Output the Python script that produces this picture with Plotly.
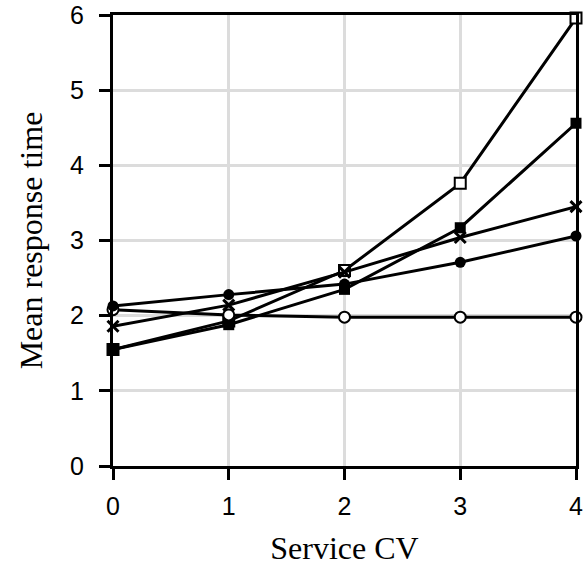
import plotly.graph_objects as go

service_cv = [0, 1, 2, 3, 4]

open_square = [1.55, 1.93, 2.60, 3.76, 5.96]
filled_square = [1.55, 1.88, 2.35, 3.17, 4.56]
open_circle = [2.08, 2.01, 1.98, 1.98, 1.98]
cross = [1.86, 2.14, 2.58, 3.04, 3.45]
filled_circle = [2.13, 2.28, 2.42, 2.71, 3.06]

series = [
    ("open square", open_square, dict(symbol="square", size=11, color="white", line=dict(color="black", width=2))),
    ("filled square", filled_square, dict(symbol="square", size=11, color="black", line=dict(color="black", width=0))),
    ("open circle", open_circle, dict(symbol="circle", size=11, color="white", line=dict(color="black", width=2))),
    ("cross", cross, dict(symbol="x-thin", size=11, color="black", line=dict(color="black", width=3))),
    ("filled circle", filled_circle, dict(symbol="circle", size=11, color="black", line=dict(color="black", width=0))),
]

fig = go.Figure()
for name, ys, mk in series:
    fig.add_trace(go.Scatter(x=service_cv, y=ys, mode="lines+markers", name=name,
                             line=dict(color="black", width=3), marker=mk,
                             showlegend=False, cliponaxis=False))

axis_common = dict(
    showline=True, linecolor="black", linewidth=3, mirror=True,
    ticks="outside", ticklen=11, tickwidth=3, tickcolor="black",
    showgrid=True, gridcolor="#dcdcdc", gridwidth=3, zeroline=False,
    tickfont=dict(family="Liberation Sans, Arial", size=25, color="black"),
    automargin=False,
)

title_font = dict(family="Liberation Serif, Times New Roman", size=32, color="black")

fig.update_layout(
    width=587, height=567,
    margin=dict(l=113, r=11, t=15, b=101),
    plot_bgcolor="white", paper_bgcolor="white",
    xaxis=dict(range=[0, 4], dtick=1, tick0=0, ticklabelstandoff=5,
               title=dict(text="Service CV", font=title_font, standoff=18),
               **axis_common),
    yaxis=dict(range=[0, 6], dtick=1, tick0=0, ticklabelstandoff=10,
               title=dict(text="Mean response time", font=title_font, standoff=18),
               **axis_common),
)

fig.write_html("out.html")
